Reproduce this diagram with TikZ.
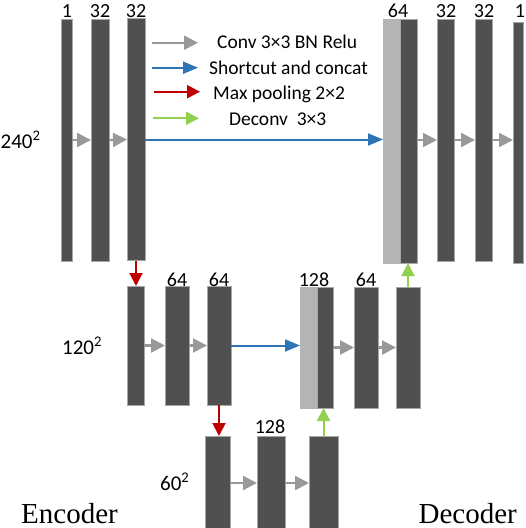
\documentclass[tikz,border=0pt]{standalone}
\usepackage{fontspec}
\setmainfont{Carlito}
\newfontfamily\timesfont{Liberation Serif}
\usetikzlibrary{arrows.meta}
\definecolor{barc}{HTML}{505050}
\definecolor{edgec}{HTML}{A6A6A6}
\definecolor{lightc}{HTML}{B4B4B4}
\definecolor{grayar}{HTML}{999999}
\definecolor{bluear}{HTML}{2E75B6}
\definecolor{redar}{HTML}{C00000}
\definecolor{greenar}{HTML}{92D050}
\tikzset{
  dk/.style={fill=barc, draw=edgec, line width=0.6pt, inner sep=0pt, outer sep=0pt},
  lt/.style={fill=lightc, draw=lightc, line width=0.6pt, inner sep=0pt, outer sep=0pt},
  convar/.style={draw=grayar, line width=2.2pt, -{Triangle[length=14pt,width=14pt]}},
  skipar/.style={draw=bluear, line width=2pt, -{Triangle[length=15pt,width=12pt]}},
  poolar/.style={draw=redar, line width=2pt, -{Triangle[length=13pt,width=13pt]}},
  deconvar/.style={draw=greenar, line width=2pt, -{Triangle[length=13pt,width=13pt]}},
  lbl/.style={inner sep=0pt, anchor=base, font=\fontsize{20}{24}\selectfont},
  side/.style={inner sep=0pt, anchor=base west, font=\fontsize{21}{25}\selectfont},
  leg/.style={inner sep=0pt, anchor=base west, font=\fontsize{19.5}{23}\selectfont},
  big/.style={inner sep=0pt, text depth=0pt, font=\fontsize{29}{34}\timesfont}
}
\begin{document}
\begin{tikzpicture}[x=1pt,y=-1pt]
\useasboundingbox (0,0) rectangle (526,528);
% top row encoder
\node[dk, minimum width=11, minimum height=242] (e1) at (66.5,140) {};
\node[dk, minimum width=18, minimum height=242] (e2) at (100,140) {};
\node[dk, minimum width=18, minimum height=242] (e3) at (136,139.5) {};
% top row decoder
\node[lt, minimum width=17, minimum height=244] (d1l) at (391.5,141) {};
\node[dk, minimum width=17, minimum height=244] (d1d) at (408.5,141) {};
\node[dk, minimum width=17, minimum height=242] (d2) at (445.5,140) {};
\node[dk, minimum width=17, minimum height=242] (d3) at (483.5,140) {};
\node[dk, minimum width=10, minimum height=241] (d4) at (518,142.5) {};
% middle row
\node[dk, minimum width=17, minimum height=119] (m1) at (135.5,345.5) {};
\node[dk, minimum width=24, minimum height=119] (m2) at (177,345.5) {};
\node[dk, minimum width=24, minimum height=119] (m3) at (219,345.5) {};
\node[lt, minimum width=17, minimum height=121] (u2l) at (308.5,347.5) {};
\node[dk, minimum width=16, minimum height=121] (u2d) at (325,347.5) {};
\node[dk, minimum width=24, minimum height=121] (u3) at (366,347.5) {};
\node[dk, minimum width=24, minimum height=121] (u4) at (408,347.5) {};
% bottom row
\node[dk, minimum width=25, minimum height=94] (b1) at (217.5,483) {};
\node[dk, minimum width=28, minimum height=94] (b2) at (271,483) {};
\node[dk, minimum width=29, minimum height=94] (b3) at (323.5,483) {};

% channel labels
\node[lbl] (t1) at (67,17.5) {1};
\node[lbl] (t2) at (100,17.5) {32};
\node[lbl] (t3) at (136,17.5) {32};
\node[lbl] (t4) at (398,17.5) {64};
\node[lbl] (t5) at (446,17.5) {32};
\node[lbl] (t6) at (484,17.5) {32};
\node[lbl] (t7) at (520,17.5) {1};
\node[lbl] (t8) at (177,286) {64};
\node[lbl] (t9) at (219,286) {64};
\node[lbl] (t10) at (314,286) {128};
\node[lbl] (t11) at (366,286) {64};
\node[lbl] (t12) at (270,433) {128};
% sizes
\node[side] (s1) at (0.5,148) {240\textsuperscript{2}};
\node[side] (s2) at (62,354) {120\textsuperscript{2}};
\node[side] (s3) at (160,490) {60\textsuperscript{2}};
\node[big, anchor=base west] (enc) at (21,523) {Encoder};
\node[big, anchor=base east] (dec) at (517,523) {Decoder};

% conv arrows
\draw[convar] (e1.east) -- (e2.west);
\draw[convar] (e2.east) -- (e3.west);
\draw[convar] (d1d.east |- d2.west) -- (d2.west);
\draw[convar] (d2.east) -- (d3.west);
\draw[convar] (d3.east) -- (d3.east -| d4.west);
\draw[convar] (m1.east) -- (m2.west);
\draw[convar] (m2.east) -- (m3.west);
\draw[convar] (u2d.east) -- (u3.west);
\draw[convar] (u3.east) -- (u4.west);
\draw[convar] (b1.east) -- (b2.west);
\draw[convar] (b2.east) -- (b3.west);
% shortcuts
\draw[skipar] (e3.east) -- (e3.east -| d1l.west);
\draw[skipar] (m3.east) -- (m3.east -| u2l.west);
% pooling
\draw[poolar] (e3.south) -- (e3.south |- m1.north);
\draw[poolar] (m3.south) -- (m3.south |- b1.north);
% deconv
\draw[deconvar] (u4.north) -- (u4.north |- d1d.south);
\draw[deconvar] (b3.north) -- (b3.north |- u2d.south);

% legend
\coordinate (l1s) at (152,42.7); \coordinate (l1e) at (198,42.7);
\coordinate (l2s) at (152,67.7); \coordinate (l2e) at (198,67.7);
\coordinate (l3s) at (154,91.7); \coordinate (l3e) at (200,91.7);
\coordinate (l4s) at (153,118.3); \coordinate (l4e) at (199,118.3);
\draw[convar] (l1s) -- (l1e);
\draw[skipar] (l2s) -- (l2e);
\draw[poolar] (l3s) -- (l3e);
\draw[deconvar] (l4s) -- (l4e);
\node[leg] (g1) at (217,48.3) {Conv 3×3 BN Relu};
\node[leg] (g2) at (209,74.3) {Shortcut and concat};
\node[leg] (g3) at (213,99) {Max pooling 2×2};
\node[leg] (g4) at (229,125) {Deconv\ \ 3×3};
\end{tikzpicture}
\end{document}
